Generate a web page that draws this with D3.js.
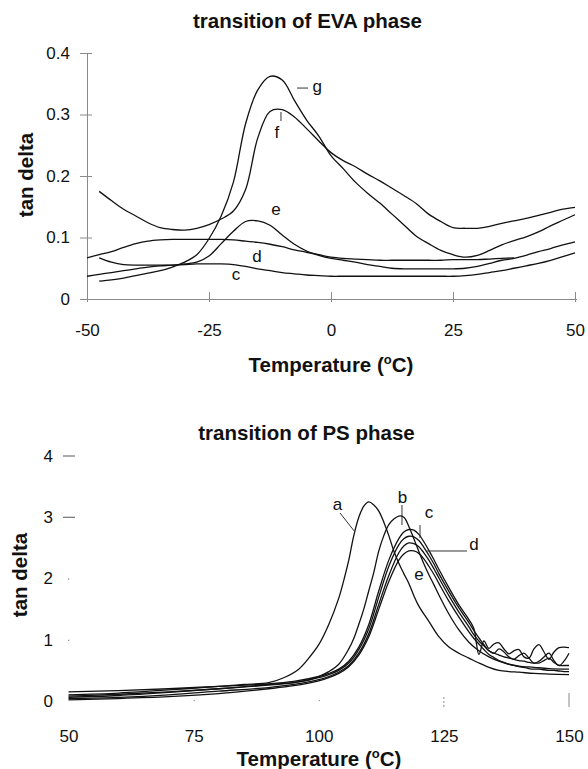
<!DOCTYPE html>
<html><head><meta charset="utf-8">
<script src="https://cdn.jsdelivr.net/npm/d3@7"></script>
<style>body{margin:0;background:#fff}svg{display:block;font-family:"Liberation Sans",Arial,sans-serif}</style>
</head><body><svg id="c" width="588" height="769"></svg>
<script>
// ---------- EVA phase (top) ----------
const evaTemps = d3.range(-50, 50.01, 2.5);
const evaC = [null,0.067,0.06,0.056,0.055,0.055,0.055,0.055,0.056,0.057,0.057,0.057,0.056,0.053,0.049,0.046,0.043,0.041,0.039,0.038,0.037,0.037,0.037,0.037,0.037,0.037,0.037,0.037,0.037,0.037,0.037,0.038,0.04,0.043,0.046,0.05,0.054,0.058,0.063,0.069,0.075];
const evaD = [0.067,0.072,0.077,0.084,0.09,0.094,0.096,0.097,0.097,0.097,0.097,0.097,0.096,0.094,0.092,0.089,0.085,0.08,0.076,0.072,0.068,0.066,0.065,0.064,0.063,0.063,0.063,0.063,0.063,0.063,0.064,0.064,0.064,0.065,0.066,0.067,null,null,null,null,null];
const evaE = [0.037,0.04,0.043,0.046,0.049,0.052,0.054,0.055,0.057,0.06,0.07,0.09,0.11,0.126,0.127,0.12,0.104,0.089,0.078,0.071,0.066,0.063,0.06,0.056,0.053,0.05,0.049,0.049,0.049,0.049,0.049,0.05,0.053,0.058,0.063,0.066,0.071,0.077,0.082,0.088,0.093];
const evaF = [null,0.175,0.16,0.146,0.135,0.124,0.116,0.113,0.112,0.115,0.121,0.13,0.143,0.178,0.262,0.305,0.308,0.296,0.277,0.257,0.238,0.225,0.215,0.203,0.192,0.18,0.168,0.155,0.138,0.126,0.116,0.115,0.115,0.118,0.123,0.127,0.131,0.136,0.141,0.146,0.149];
const evaG = [null,0.029,0.031,0.034,0.038,0.042,0.046,0.052,0.06,0.072,0.098,0.135,0.19,0.285,0.34,0.362,0.356,0.323,0.291,0.265,0.233,0.212,0.19,0.172,0.156,0.138,0.12,0.102,0.09,0.079,0.072,0.068,0.071,0.079,0.088,0.095,0.101,0.109,0.119,0.128,0.137];
const evaXTicks = [-50,-25,0,25,50];
const evaYTicks = [0,0.1,0.2,0.3,0.4];

// ---------- PS phase (bottom) ----------
const psTempsA = [50,60,70,80,85,90,93,96,98,100,102,104,105,106,107,108,109,110,111,112,113,114,115,116,117,118,119,120,122,124,126,128,130,132,134,136,138,140,143,146,150];
const psA      = [0.1,0.13,0.18,0.24,0.27,0.3,0.38,0.52,0.7,0.92,1.25,1.68,1.97,2.3,2.7,3.0,3.18,3.25,3.2,3.1,2.92,2.7,2.45,2.25,2.08,1.92,1.72,1.55,1.3,1.05,0.88,0.78,0.7,0.62,0.55,0.5,0.48,0.47,0.45,0.44,0.43];
const psTempsB = [50,60,70,80,90,95,98,100,102,104,106,107,108,109,110,111,112,113,114,115,116,117,118,119,120,121,122,123,124,126,128,130,132,134,136,138,140,143,146,150];
const psB      = [0.06,0.09,0.14,0.2,0.27,0.3,0.34,0.4,0.48,0.6,0.85,1.02,1.25,1.5,1.8,2.1,2.45,2.7,2.88,2.97,3.02,3.0,2.85,2.65,2.44,2.24,2.06,1.9,1.73,1.42,1.16,0.96,0.82,0.72,0.65,0.6,0.57,0.55,0.53,0.52];
const psTempsCl = [50,60,70,80,90,95,100,102,104,106,108,110,112,114,116,117,118,119,120,121,122,123,124,126,128,130,131,132,133,134,135,136,137,138,139,140,141,142,143,144,145,146,147,148,149,150];
const psC = [0.15,0.17,0.2,0.24,0.28,0.32,0.4,0.45,0.52,0.65,0.88,1.25,1.8,2.3,2.65,2.76,2.8,2.79,2.72,2.6,2.46,2.31,2.15,1.85,1.57,1.33,1.18,0.76,0.98,0.86,0.93,0.95,0.85,0.77,0.82,0.84,0.72,0.7,0.85,0.92,0.8,0.68,0.8,0.87,0.88,0.87];
const psD = [0.08,0.11,0.15,0.2,0.26,0.3,0.38,0.43,0.5,0.62,0.84,1.18,1.7,2.2,2.55,2.65,2.69,2.68,2.62,2.51,2.38,2.24,2.08,1.79,1.52,1.28,1.15,1.03,0.92,0.82,0.78,0.85,0.8,0.72,0.68,0.74,0.78,0.7,0.62,0.65,0.72,0.78,0.66,0.58,0.65,0.78];
const psX = [0.04,0.06,0.1,0.16,0.22,0.27,0.35,0.4,0.47,0.58,0.78,1.1,1.58,2.05,2.42,2.53,2.58,2.57,2.52,2.42,2.3,2.16,2.01,1.72,1.45,1.21,1.08,0.98,0.9,0.82,0.78,0.75,0.72,0.7,0.68,0.66,0.65,0.63,0.62,0.62,0.66,0.7,0.63,0.58,0.58,0.58];
const psE = [0.02,0.04,0.07,0.12,0.2,0.25,0.33,0.38,0.45,0.56,0.75,1.05,1.5,1.95,2.3,2.4,2.45,2.45,2.41,2.32,2.2,2.07,1.92,1.63,1.37,1.13,1.02,0.93,0.84,0.76,0.71,0.66,0.63,0.6,0.58,0.56,0.55,0.53,0.52,0.52,0.51,0.5,0.5,0.49,0.48,0.48];
const psXTicks = [50,75,100,125,150];
const psYTicks = [0,1,2,3,4];

// ---------- drawing ----------
const svg = d3.select("#c");
const black = "#111";
const axisGrey = "#8a8a8a";
const FONT = "Liberation Sans, Arial, sans-serif";

// Top scales
const xT = d3.scaleLinear().domain([-50,50]).range([87,575]);
const yT = d3.scaleLinear().domain([0,0.4]).range([299,53]);

// Top axes
const gT = svg.append("g");
gT.append("g").attr("transform","translate(87,0)")
  .call(d3.axisLeft(yT).tickValues(evaYTicks).tickSizeInner(7).tickSizeOuter(0).tickPadding(10)
        .tickFormat(d => d===0 ? "0" : d3.format(".1f")(d)))
  .call(g => { g.select(".domain").attr("stroke",axisGrey);
               g.selectAll(".tick line").attr("stroke",axisGrey).attr("x1",5);
               g.selectAll(".tick text").attr("font-size",17).attr("fill",black).attr("font-family",FONT); });
gT.append("g").attr("transform","translate(0,299)")
  .call(d3.axisBottom(xT).tickValues(evaXTicks).tickSizeInner(3).tickSizeOuter(0).tickPadding(22)
        .tickFormat(d => String(d)))
  .call(g => { g.select(".domain").attr("stroke",axisGrey).attr("d","M80,0.5H577");
               g.selectAll(".tick line").attr("stroke",axisGrey).attr("y1",-7).attr("y2",3);
               g.selectAll(".tick text").attr("font-size",17).attr("fill",black).attr("font-family",FONT); });

const lineT = d3.line().defined(d => d[1] != null).x(d => xT(d[0])).y(d => yT(d[1])).curve(d3.curveCatmullRom.alpha(0.5));
[evaC, evaD, evaE, evaF, evaG].forEach(vals => {
  gT.append("path").datum(evaTemps.map((t,i) => [t, vals[i]]))
    .attr("d", lineT).attr("fill","none").attr("stroke",black).attr("stroke-width",1.3);
});

// Annotation helpers
function lbl(g, x, y, txt, size, anchor){ g.append("text").attr("x",x).attr("y",y).attr("font-size",size).attr("text-anchor",anchor||"middle").attr("fill",black).text(txt); }
function seg(g, x1,y1,x2,y2){ g.append("line").attr("x1",x1).attr("y1",y1).attr("x2",x2).attr("y2",y2).attr("stroke","#333").attr("stroke-width",1); }
seg(gT, xT(-6.97), yT(0.343), xT(-4.71), yT(0.343));
lbl(gT, xT(-2.8), yT(0.3366), "g", 17);
seg(gT, xT(-10.25), yT(0.304), xT(-10.25), yT(0.2894));
lbl(gT, xT(-11.07), yT(0.2618), "f", 17);
lbl(gT, xT(-11.27), yT(0.1366), "e", 17);
lbl(gT, xT(-15.16), yT(0.0602), "d", 17);
lbl(gT, xT(-19.47), yT(0.0309), "c", 17);

// Top titles
svg.append("text").attr("x",307.5).attr("y",28).attr("text-anchor","middle").attr("font-size",20.5).attr("font-weight","bold").attr("fill",black).text("transition of EVA phase");
svg.append("text").attr("transform","translate(33,175) rotate(-90)").attr("text-anchor","middle").attr("font-size",20.5).attr("font-weight","bold").attr("fill",black).text("tan delta");
const tx1 = svg.append("text").attr("x",331).attr("y",372).attr("text-anchor","middle").attr("font-size",20.5).attr("font-weight","bold").attr("fill",black);
tx1.append("tspan").text("Temperature (");
tx1.append("tspan").attr("font-size",13).attr("dy",-8).text("o");
tx1.append("tspan").attr("dy",8).text("C)");

// Bottom scales
const xB = d3.scaleLinear().domain([50,150]).range([68.5,569]);
const yB = d3.scaleLinear().domain([0,4]).range([701,456]);
const gB = svg.append("g");
gB.append("g").attr("transform","translate(68,0)")
  .call(d3.axisLeft(yB).tickValues(psYTicks).tickSizeInner(0).tickSizeOuter(0).tickPadding(15).tickFormat(d3.format("d")))
  .call(g => { g.select(".domain").remove();
               g.selectAll(".tick line").remove();
               g.selectAll(".tick text").attr("font-size",17).attr("fill",black).attr("font-family",FONT); });
gB.selectAll("line.yt").data(psYTicks.filter(d => d>=3)).join("line")
  .attr("x1",63).attr("x2",75).attr("y1",d=>yB(d)).attr("y2",d=>yB(d)).attr("stroke","#555").attr("stroke-width",1);
gB.selectAll("rect.yd").data(psYTicks.filter(d => d===1||d===2)).join("rect")
  .attr("x",68).attr("y",d=>yB(d)).attr("width",1.2).attr("height",1.2).attr("fill","#888");
gB.append("g").attr("transform","translate(0,701)")
  .call(d3.axisBottom(xB).tickValues(psXTicks).tickSizeInner(0).tickSizeOuter(0).tickPadding(29).tickFormat(d3.format("d")))
  .call(g => { g.select(".domain").remove();
               g.selectAll(".tick line").remove();
               g.selectAll(".tick text").attr("font-size",17).attr("fill",black).attr("font-family",FONT); });
gB.selectAll("line.xt").data(psXTicks.filter(d => d>=125)).join("line")
  .attr("x1",d=>xB(d)).attr("x2",d=>xB(d)).attr("y1",d=> d===150?693:697).attr("y2",707)
  .attr("stroke","#888").attr("stroke-width",1).attr("stroke-dasharray",d=> d===125?"2,2":null);
gB.selectAll("rect.xd").data(psXTicks.filter(d => d===75||d===100)).join("rect")
  .attr("x",d=>xB(d)).attr("y",700).attr("width",1.2).attr("height",1.2).attr("fill","#999");

const lineB = d3.line().x(d => xB(d[0])).y(d => yB(d[1])).curve(d3.curveCatmullRom.alpha(0.5));
const psSeries = [[psTempsA, psA],[psTempsB, psB],[psTempsCl, psC],[psTempsCl, psD],[psTempsCl, psX],[psTempsCl, psE]];
psSeries.forEach(([ts, vs]) => {
  gB.append("path").datum(ts.map((t,i)=>[t, vs[i]])).attr("d", lineB)
    .attr("fill","none").attr("stroke",black).attr("stroke-width",1.3);
});

// Bottom annotations
lbl(gB, xB(103.75), yB(3.118), "a", 17);
seg(gB, xB(104.25), yB(3.069), xB(107.24), yB(2.759));
lbl(gB, xB(116.73), yB(3.233), "b", 17);
seg(gB, xB(116.63), yB(3.2), xB(116.63), yB(2.873));
lbl(gB, xB(122.03), yB(2.988), "c", 17);
seg(gB, xB(120.23), yB(2.873), xB(120.23), yB(2.661));
lbl(gB, xB(131.02), yB(2.465), "d", 17);
seg(gB, xB(121.63), yB(2.449), xB(129.62), yB(2.449));
lbl(gB, xB(120.03), yB(1.976), "e", 17);

svg.append("text").attr("x",306.5).attr("y",440).attr("text-anchor","middle").attr("font-size",20.5).attr("font-weight","bold").attr("fill",black).text("transition of PS phase");
svg.append("text").attr("transform","translate(27,575) rotate(-90)").attr("text-anchor","middle").attr("font-size",20.5).attr("font-weight","bold").attr("fill",black).text("tan delta");
const tx2 = svg.append("text").attr("x",319).attr("y",766).attr("text-anchor","middle").attr("font-size",20.5).attr("font-weight","bold").attr("fill",black);
tx2.append("tspan").text("Temperature (");
tx2.append("tspan").attr("font-size",13).attr("dy",-8).text("o");
tx2.append("tspan").attr("dy",8).text("C)");
</script></body></html>
